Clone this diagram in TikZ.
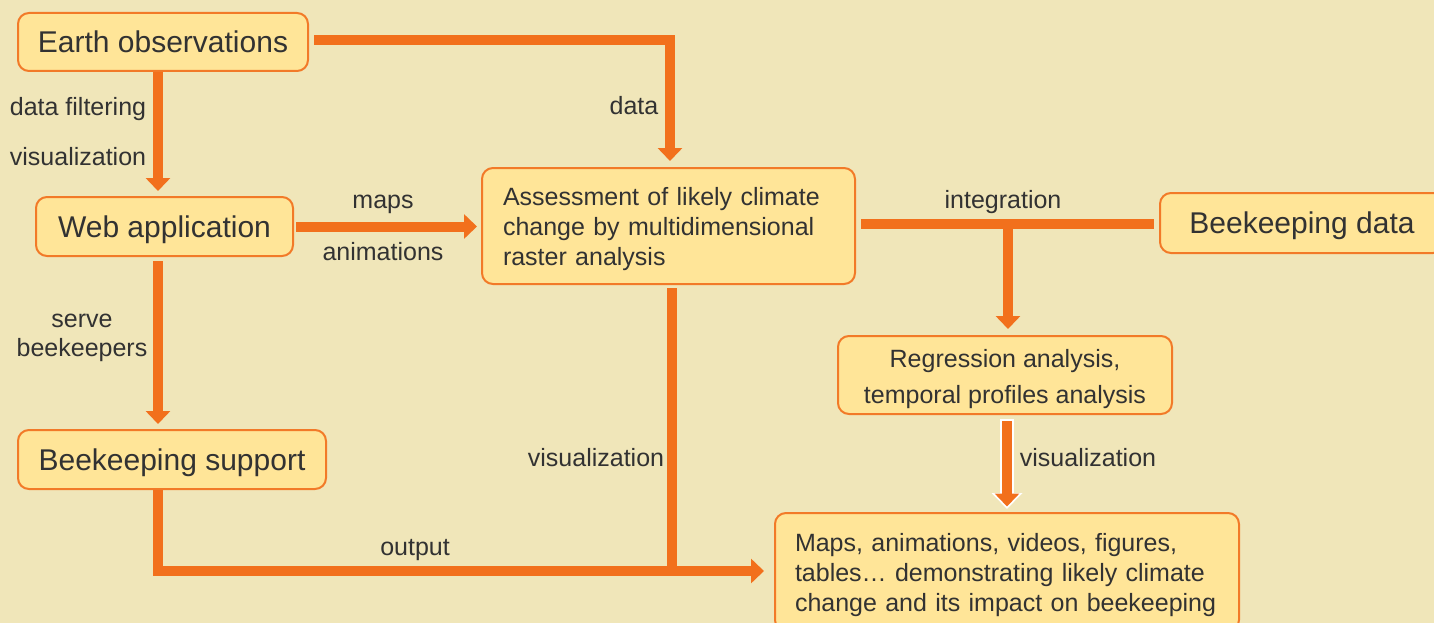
\documentclass[tikz,border=0pt]{standalone}
\usepackage{fontspec}
\setmainfont{Liberation Sans}
\usetikzlibrary{arrows.meta,calc}
\definecolor{bgc}{RGB}{240,230,185}
\definecolor{boxfill}{RGB}{255,229,152}
\definecolor{boxline}{RGB}{242,122,40}
\definecolor{arrc}{RGB}{242,112,28}
\definecolor{txt}{RGB}{50,50,50}
\tikzset{
  box/.style={draw=boxline, fill=boxfill, line width=2pt, rounded corners=11pt,
    text=txt, inner sep=0pt, font=\fontsize{30}{36}\selectfont},
  onebox/.style={box, text height=22pt, text depth=1pt},
  smallbox/.style={box, font=\fontsize{25}{30}\selectfont},
  arr/.style={draw=arrc, line width=10pt, -{Triangle[width=24pt,length=13pt]}},
  plainline/.style={draw=arrc, line width=10pt},
  lab/.style={text=txt, inner sep=0pt, anchor=base, font=\fontsize{25}{30}\selectfont},
}
\begin{document}
\begin{tikzpicture}[x=1pt,y=-1pt]
\useasboundingbox (0,0) rectangle (1434,623);
\clip (0,0) rectangle (1434,623);
\fill[bgc] (0,0) rectangle (1434,623);

% nodes
\node[onebox, minimum width=290pt, minimum height=58pt] (eo) at (163,42) {Earth observations};
\node[onebox, minimum width=257pt, minimum height=59pt] (web) at (164.5,226.5) {Web application};
\node[smallbox, text width=331pt, inner xsep=21pt, align=left, minimum height=116pt] (assess) at (668.5,226)
  {\rule{0pt}{24.5pt}Assessment of likely climate\\change by multidimensional\\raster analysis};
\node[onebox, minimum width=284pt, minimum height=60pt] (bd) at (1302,223) {Beekeeping data};
\node[smallbox, font=\fontsize{25}{36}\selectfont, minimum width=334pt, minimum height=78pt, align=center] (reg) at (1005,375)
  {\rule{0pt}{25.5pt}Regression analysis,\\temporal profiles analysis};
\node[onebox, minimum width=308pt, minimum height=59pt] (bs) at (172,459.5) {Beekeeping support};
\node[smallbox, text width=424pt, inner xsep=20pt, align=left, minimum height=118pt] (maps) at (1007,572)
  {\rule{0pt}{23.5pt}Maps, animations, videos, figures,\\tables\dots\ demonstrating likely climate\\change and its impact on beekeeping};

% helper coordinates
\coordinate (c1) at (158,0);
\coordinate (c2) at (672,0);
\coordinate (c3) at (1008,0);
\coordinate (c4) at (1007,0);
\coordinate (cy) at (0,571);
\coordinate (ci) at (0,224);
\coordinate (ce) at (0,40);
\coordinate (ca) at (670,0);

% connectors
\draw[arr, shorten <=5pt, shorten >=6pt] (eo.east |- ce) -| (assess.north -| ca);
\draw[arr, shorten >=5pt] (eo.south -| c1) -- (web.north -| c1);
\draw[arr, shorten <=2pt, shorten >=4pt] (web.east) -- (assess.west |- web.east);
\draw[arr, shorten <=4pt, shorten >=5pt] (web.south -| c1) -- (bs.north -| c1);
\draw[arr, shorten >=10pt] (bs.south -| c1) |- (maps.west |- cy);
\draw[plainline, shorten <=3pt, shorten >=-5pt] (assess.south -| c2) -- (c2 |- cy);
\draw[plainline, shorten <=5pt, shorten >=5pt] (assess.east |- ci) -- (bd.west |- ci);
\draw[arr, shorten >=6pt] (c3 |- ci) -- (reg.north -| c3);
\draw[draw=white, line width=14pt, -{Triangle[width=30pt,length=16pt]}, shorten <=4pt, shorten >=3pt] (reg.south -| c4) -- (maps.north -| c4);
\draw[arr, shorten <=6pt, shorten >=5.5pt] (reg.south -| c4) -- (maps.north -| c4);

% labels
\node[lab] (l1) at (634,114) {data};
\node[lab] (l2) at (78,116) {data filtering};
\node[lab] (l3) at (78,165) {visualization};
\node[lab] (l4) at (383,208) {maps};
\node[lab] (l5) at (383,260) {animations};
\node[lab, align=center, font=\fontsize{25}{29}\selectfont, anchor=center] (l6) at (82,338) {serve\\beekeepers};
\node[lab] (l7) at (415,555) {output};
\node[lab] (l8) at (596,466) {visualization};
\node[lab] (l9) at (1003,208) {integration};
\node[lab] (l10) at (1088,466) {visualization};
\end{tikzpicture}
\end{document}
